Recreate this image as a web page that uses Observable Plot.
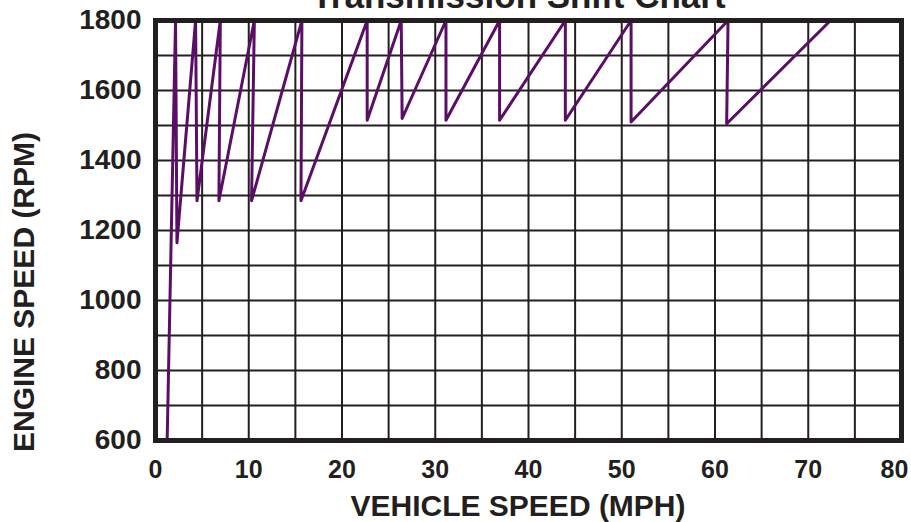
<!DOCTYPE html>
<html>
<head>
<meta charset="utf-8">
<script src="https://cdn.jsdelivr.net/npm/d3@7"></script>
<script src="https://cdn.jsdelivr.net/npm/@observablehq/plot@0.6"></script>
<style>
  html, body { margin: 0; padding: 0; background: #fff; }
  #chart { width: 911px; height: 522px; overflow: hidden; }
</style>
</head>
<body>
<div id="chart"></div>
<script>
// Vehicle speed (MPH) and engine speed (RPM) along the shift trace
const speedMph = [1.25, 2.15, 2.3, 4.3, 4.45, 6.95, 6.8, 10.6, 10.3, 15.7, 15.6, 22.7, 22.7, 26.35, 26.45, 31.15, 31.15, 36.9, 36.9, 43.95, 43.95, 51.0, 51.0, 61.4, 61.25, 72.2];
const engineRpm = [600, 1800, 1165, 1800, 1285, 1800, 1285, 1800, 1285, 1800, 1285, 1800, 1515, 1800, 1520, 1800, 1515, 1800, 1515, 1800, 1515, 1800, 1510, 1800, 1505, 1795];

const xTickLabels = [0, 10, 20, 30, 40, 50, 60, 70];
const xLastTick = [80];
const yTickLabels = [600, 800, 1000, 1200, 1400, 1600, 1800];
const xGrid = [0, 5, 10, 15, 20, 25, 30, 35, 40, 45, 50, 55, 60, 65, 70, 75, 80];
const yGrid = [600, 700, 800, 900, 1000, 1100, 1200, 1300, 1400, 1500, 1600, 1700, 1800];

const titleText = "Transmission Shift Chart";
const xLabel = "VEHICLE SPEED (MPH)";
const yLabel = "ENGINE SPEED (RPM)";

const trace = speedMph.map((s, i) => ({speed: s, rpm: engineRpm[i]}));

const ink = "#231f20";
const purple = "#5b0e66";
const fmt = (d) => String(d);

const chart = Plot.plot({
  width: 911,
  height: 522,
  marginLeft: 155,
  marginRight: 10,
  marginTop: 20,
  marginBottom: 82,
  style: {fontFamily: "'Liberation Sans', Arial, Helvetica, sans-serif", color: ink, background: "white", overflow: "visible"},
  x: {domain: [0, 80]},
  y: {domain: [600, 1800]},
  marks: [
    Plot.gridX(xGrid, {stroke: ink, strokeOpacity: 1, strokeWidth: 2}),
    Plot.gridY(yGrid, {stroke: ink, strokeOpacity: 1, strokeWidth: 2}),
    Plot.line(trace, {x: "speed", y: "rpm", stroke: purple, strokeWidth: 3, strokeLinejoin: "round"}),
    Plot.frame({stroke: ink, strokeWidth: 5}),
    Plot.axisX(xTickLabels, {tickSize: 0, tickPadding: 20, fontSize: 25, fontWeight: "bold", fill: ink, label: null, tickFormat: fmt}),
    Plot.axisX(xLastTick, {tickSize: 0, tickPadding: 20, fontSize: 25, fontWeight: "bold", fill: ink, label: null, tickFormat: fmt, dx: -7}),
    Plot.axisY(yTickLabels, {tickSize: 0, tickPadding: 14, fontSize: 28, fontWeight: "bold", fill: ink, label: null, tickFormat: fmt}),
    Plot.text([titleText], {frameAnchor: "top", dx: -10, dy: -23.7, fontSize: 35, fontWeight: "bold", fill: ink, textAnchor: "middle", lineAnchor: "middle"}),
    Plot.text([xLabel], {frameAnchor: "bottom", dx: -10.5, dy: 65.8, fontSize: 30, fontWeight: "bold", fill: ink, textAnchor: "middle", lineAnchor: "middle"}),
    Plot.text([yLabel], {frameAnchor: "left", rotate: -90, dx: -131, dy: 61.5, fontSize: 30, fontWeight: "bold", fill: ink, textAnchor: "middle", lineAnchor: "middle"})
  ]
});

document.getElementById("chart").appendChild(chart);
</script>
</body>
</html>
